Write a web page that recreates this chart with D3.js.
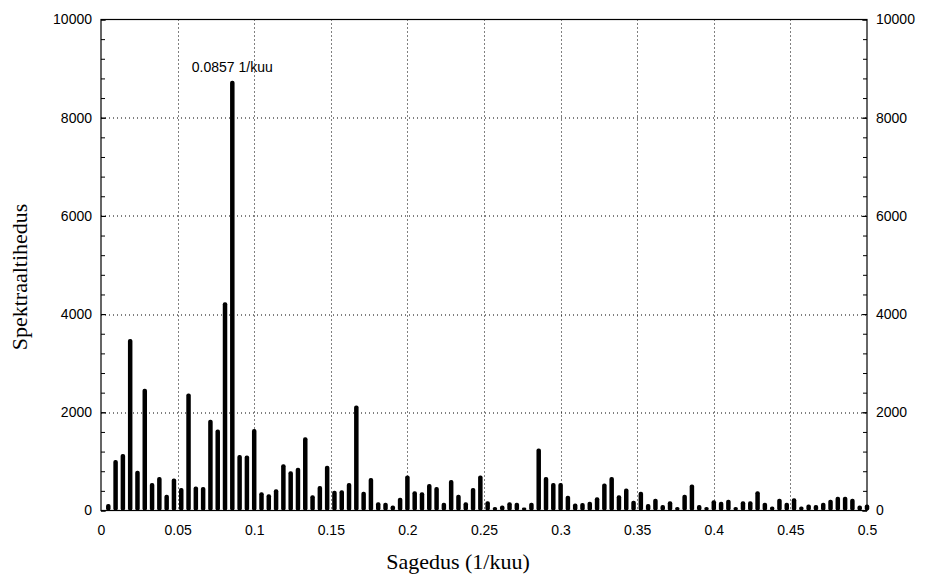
<!DOCTYPE html>
<html>
<head>
<meta charset="utf-8">
<script src="https://cdn.jsdelivr.net/npm/d3@7"></script>
<style>
  body { margin: 0; background: #fff; }
  .tick text { font-family: "Liberation Sans", Arial, sans-serif; font-size: 14px; fill: #000; }
  .title { font-family: "Liberation Serif", "Times New Roman", serif; font-size: 22px; fill: #000; }
</style>
</head>
<body>
<div id="chart"></div>
<script>
// spectrum: frequencies k/210, k = 1..105
var nBase = 210;
var power = [
  110, 1010, 1130, 3470, 790, 2460, 540, 660, 300, 630,
  440, 2360, 470, 460, 1830, 1630, 4220, 8730, 1110, 1100,
  1640, 350, 310, 410, 920, 780, 850, 1470, 290, 480,
  890, 380, 390, 540, 2120, 360, 640, 150, 140, 80,
  240, 690, 370, 350, 520, 460, 140, 600, 300, 150,
  440, 690, 170, 50, 80, 150, 140, 40, 140, 1240,
  660, 540, 540, 280, 120, 130, 160, 250, 530, 660,
  290, 430, 180, 360, 110, 220, 90, 170, 50, 300,
  510, 90, 50, 190, 160, 200, 50, 170, 170, 370,
  140, 60, 220, 140, 230, 60, 100, 90, 140, 200,
  260, 260, 220, 80, 100
];
var xTicks = [0, 0.05, 0.1, 0.15, 0.2, 0.25, 0.3, 0.35, 0.4, 0.45, 0.5];
var yTicks = [0, 2000, 4000, 6000, 8000, 10000];
var peakLabel = "0.0857 1/kuu";

var data = power.map(function(v, i) { return {f: (i + 1) / nBase, v: v}; });

var W = 926, H = 576;
var margin = {top: 19.5, right: 59, bottom: 65.5, left: 101};
var width = W - margin.left - margin.right,
    height = H - margin.top - margin.bottom;

var svg = d3.select("#chart").append("svg")
  .attr("width", W)
  .attr("height", H);

var g = svg.append("g")
  .attr("transform", "translate(" + margin.left + "," + margin.top + ")");

var x = d3.scaleLinear().domain([0, 0.5]).range([0, width]);
var y = d3.scaleLinear().domain([0, 10000]).range([height, 0]);

// dotted grid
g.selectAll(".hgrid")
  .data(yTicks.slice(1, -1))
  .enter().append("line")
  .attr("x1", 0).attr("x2", width)
  .attr("y1", d => Math.round(y(d)) + 0.5).attr("y2", d => Math.round(y(d)) + 0.5)
  .attr("stroke", "#000").attr("stroke-width", 1).attr("stroke-dasharray", "1,3");
g.selectAll(".vgrid")
  .data(xTicks.slice(1, -1))
  .enter().append("line")
  .attr("y1", 0).attr("y2", height)
  .attr("x1", d => Math.round(x(d)) + 0.5).attr("x2", d => Math.round(x(d)) + 0.5)
  .attr("stroke", "#000").attr("stroke-width", 1).attr("stroke-dasharray", "1,3");

// bars
var bw = 4.5;
g.selectAll(".bar")
  .data(data)
  .enter().append("rect")
  .attr("x", d => x(d.f) - bw / 2)
  .attr("y", d => y(d.v) - 1)
  .attr("width", bw)
  .attr("height", d => height - y(d.v) + 1)
  .attr("rx", 2)
  .attr("fill", "#000");

// axes
var minor = d3.range(0, 10001, 400);
var fmt = d => String(d);

g.append("g")
  .call(d3.axisLeft(y).tickValues(minor).tickSize(-4).tickFormat(""))
  .call(a => a.select(".domain").remove());
g.append("g")
  .call(d3.axisLeft(y).tickValues(yTicks).tickSize(-5).tickPadding(9).tickFormat(fmt))
  .call(a => a.select(".domain").remove());

g.append("g")
  .attr("transform", "translate(" + width + ",0)")
  .call(d3.axisRight(y).tickValues(minor).tickSize(-4).tickFormat(""))
  .call(a => a.select(".domain").remove());
g.append("g")
  .attr("transform", "translate(" + width + ",0)")
  .call(d3.axisRight(y).tickValues(yTicks).tickSize(-5).tickPadding(9).tickFormat(fmt))
  .call(a => a.select(".domain").remove());

g.append("g")
  .attr("transform", "translate(0," + height + ")")
  .call(d3.axisBottom(x).tickValues(xTicks).tickSize(0).tickPadding(15)
    .tickFormat(d => String(+d.toFixed(2))))
  .call(a => a.select(".domain").remove());

// frame
g.append("rect")
  .attr("x", 0).attr("y", 0)
  .attr("width", width).attr("height", height)
  .attr("fill", "none").attr("stroke", "#000").attr("stroke-width", 1.2);

// peak annotation
var peak = data.reduce((a, b) => b.v > a.v ? b : a);
g.append("text")
  .attr("x", x(peak.f))
  .attr("y", y(peak.v) - 10)
  .attr("text-anchor", "middle")
  .style("font-family", "Liberation Sans, Arial, sans-serif")
  .style("font-size", "14px")
  .text(peakLabel);

// titles
svg.append("text")
  .attr("class", "title")
  .attr("x", 458)
  .attr("y", 569)
  .attr("text-anchor", "middle")
  .text("Sagedus (1/kuu)");

svg.append("text")
  .attr("class", "title")
  .attr("transform", "translate(27,277) rotate(-90)")
  .attr("text-anchor", "middle")
  .text("Spektraaltihedus");
</script>
</body>
</html>
